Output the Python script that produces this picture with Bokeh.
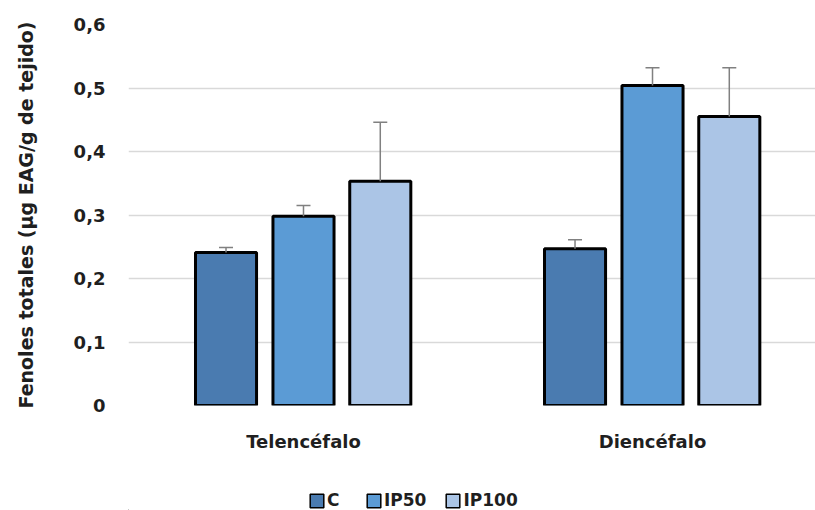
from bokeh.plotting import figure
from bokeh.layouts import column
from bokeh.models import ColumnDataSource, Whisker, FixedTicker, Legend, LegendItem, TeeHead, Range1d
from bokeh.transform import dodge
from bokeh.embed import file_html
from bokeh.resources import INLINE

categories = ["Telencéfalo", "Diencéfalo"]
series = ["C", "IP50", "IP100"]
values_C = [0.241, 0.247]
values_IP50 = [0.298, 0.504]
values_IP100 = [0.353, 0.455]
err_C = [0.008, 0.014]
err_IP50 = [0.017, 0.028]
err_IP100 = [0.093, 0.077]
colors = ["#4a7bb0", "#5b9bd5", "#abc5e6"]
y_ticks = [0, 0.1, 0.2, 0.3, 0.4, 0.5, 0.6]
y_tick_labels = ["0", "0,1", "0,2", "0,3", "0,4", "0,5", "0,6"]

FONT = "DejaVu Sans"
TXT = "#1f1f1f"

x_idx = list(range(len(categories)))
src = ColumnDataSource(dict(
    x=x_idx,
    C=values_C, IP50=values_IP50, IP100=values_IP100,
    C_up=[v + e for v, e in zip(values_C, err_C)],
    IP50_up=[v + e for v, e in zip(values_IP50, err_IP50)],
    IP100_up=[v + e for v, e in zip(values_IP100, err_IP100)],
))

p = figure(width=815, height=465, output_backend="svg", toolbar_location=None,
           x_range=Range1d(-0.5014, 1.467), y_range=Range1d(0, 0.6),
           min_border_left=128, min_border_right=0, min_border_top=24, min_border_bottom=60)
p.outline_line_color = None
p.background_fill_color = "white"

offsets = [-0.222, 0.0, 0.220]
for s, c, off in zip(series, colors, offsets):
    p.vbar(x=dodge("x", off), top=s, width=0.175, source=src,
           fill_color=c, line_color="black", line_width=3)
    w = Whisker(source=src, base=dodge("x", off), lower=s, upper=s + "_up",
                line_color="#808080", line_width=1.5,
                upper_head=TeeHead(size=14, line_color="#808080", line_width=1.5),
                lower_head=None, level="glyph")
    p.add_layout(w)

# axes
p.xaxis.ticker = FixedTicker(ticks=x_idx)
p.xaxis.major_label_overrides = {i: c for i, c in zip(x_idx, categories)}
p.xaxis.axis_line_color = None
p.xaxis.major_tick_line_color = None
p.xaxis.minor_tick_line_color = None
p.xaxis.major_tick_out = 0
p.xaxis.major_label_standoff = 25
p.xaxis.major_label_text_font = FONT
p.xaxis.major_label_text_font_style = "bold"
p.xaxis.major_label_text_font_size = "18px"
p.xaxis.major_label_text_color = TXT

p.yaxis.ticker = FixedTicker(ticks=y_ticks)
p.yaxis.major_label_overrides = {t: l for t, l in zip(y_ticks, y_tick_labels)}
p.yaxis.axis_line_color = None
p.yaxis.major_tick_line_color = None
p.yaxis.minor_tick_line_color = None
p.yaxis.major_tick_out = 0
p.yaxis.major_label_standoff = 23
p.yaxis.major_label_text_font = FONT
p.yaxis.major_label_text_font_style = "bold"
p.yaxis.major_label_text_font_size = "18px"
p.yaxis.major_label_text_color = TXT
p.yaxis.axis_label = "Fenoles totales (µg EAG/g de tejido)"
p.yaxis.axis_label_text_font = FONT
p.yaxis.axis_label_text_font_style = "bold"
p.yaxis.axis_label_text_font_size = "19px"
p.yaxis.axis_label_text_color = TXT
p.yaxis.axis_label_standoff = 34

p.xgrid.grid_line_color = None
p.ygrid.grid_line_color = "#d9d9d9"
p.ygrid.grid_line_width = 1.5

# legend strip below the chart (swatches drawn off-range, only legend visible)
lg = figure(width=815, height=45, output_backend="svg", toolbar_location=None,
            x_range=Range1d(0, 1), y_range=Range1d(0, 1),
            x_axis_location=None, y_axis_location=None,
            min_border_left=0, min_border_right=0, min_border_top=0, min_border_bottom=0)
lg.outline_line_color = None
lg.xgrid.visible = False
lg.ygrid.visible = False
legend_renderers = []
for s, c in zip(series, colors):
    rr = lg.vbar(x=[-5], top=[-5], bottom=[-6], width=0.1, fill_color=c,
                 line_color="black", line_width=1.5)
    legend_renderers.append(rr)
legend = Legend(items=[LegendItem(label=s, renderers=[r]) for s, r in zip(series, legend_renderers)],
                orientation="horizontal", location=(180, 0),
                label_text_font=FONT, label_text_font_style="bold", label_text_font_size="17px",
                label_text_color=TXT, glyph_width=17, glyph_height=17, label_standoff=2,
                spacing=18, border_line_color=None, background_fill_alpha=0,
                padding=2, margin=0)
lg.add_layout(legend, "center")

layout = column(p, lg, spacing=0)
open("out.html", "w").write(file_html(layout, INLINE))
